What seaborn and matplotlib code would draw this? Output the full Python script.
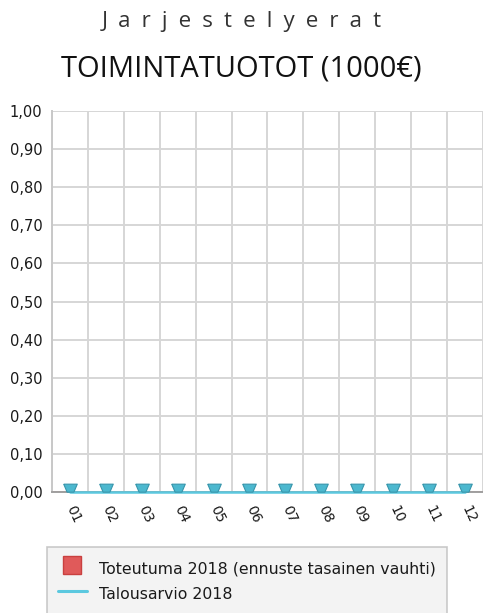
import numpy as np
import pandas as pd
import matplotlib
matplotlib.use("Agg")
import matplotlib.pyplot as plt
import seaborn as sns
from matplotlib.lines import Line2D
from matplotlib.ticker import FuncFormatter

# Data
months = ["01", "02", "03", "04", "05", "06", "07", "08", "09", "10", "11", "12"]
toteutuma = [0, 0, 0, 0, 0, 0, 0, 0, 0, 0, 0, 0]
talousarvio = [0, 0, 0, 0, 0, 0, 0, 0, 0, 0, 0, 0]
y_ticks = [0.0, 0.1, 0.2, 0.3, 0.4, 0.5, 0.6, 0.7, 0.8, 0.9, 1.0]

df = pd.DataFrame({"kk": months, "toteutuma": toteutuma, "talousarvio": talousarvio})

sns.set_style("white")
plt.rcParams["font.family"] = ["DejaVu Sans"]

fig = plt.figure(figsize=(4.83, 6.13), dpi=100)
ax = fig.add_axes([0.1077, 0.1974, 0.892, 0.6215])

# clipped triangle look (marker sits on top of the zero line)
trap = [(-1, 1.23), (1, 1.23), (0.5, 0.05), (-0.5, 0.05), (-1, 1.23)]

# Bars (actuals) and line (budget)
sns.barplot(data=df, x="kk", y="toteutuma", color="#e05a5a", edgecolor="#c9403f",
            linewidth=1.2, width=1.0, ax=ax, zorder=2)
ax.plot(range(len(months)), df["talousarvio"], color="#5bc8df", linewidth=1.8,
        marker=trap, markersize=12, markerfacecolor="#4cb8cf",
        markeredgecolor="#3795ab", markeredgewidth=0.8, zorder=4, clip_on=False)

ax.set_xlim(-0.5, len(months) - 0.5)
ax.set_ylim(0, 1)

# Grid
ax.set_yticks(y_ticks)
ax.yaxis.set_major_formatter(FuncFormatter(lambda v, p: f"{v:.2f}".replace(".", ",")))
ax.set_xticks(np.arange(-0.5, len(months), 1.0))
ax.set_xticks(np.arange(len(months)), minor=True)
ax.set_xticklabels([])
ax.set_xticklabels(months, minor=True, rotation=-65, ha="left", va="center",
                   rotation_mode="anchor")
ax.grid(True, which="major", color="#d6d6d6", linewidth=1.4, zorder=0)
ax.set_axisbelow(True)

ax.tick_params(axis="x", which="major", length=7, width=2.2, color="#8a8a8a", direction="out")
ax.tick_params(axis="x", which="minor", length=0, pad=10, labelsize=10, labelcolor="#1a1a1a")
ax.tick_params(axis="y", length=0, pad=7, labelsize=10.5, labelcolor="#1a1a1a")

for side in ["top", "right"]:
    ax.spines[side].set_visible(False)
ax.spines["left"].set_color("#c8c8c8")
ax.spines["left"].set_linewidth(1.4)
ax.spines["bottom"].set_color("#a0a0a0")
ax.spines["bottom"].set_linewidth(1.4)

ax.set_xlabel("")
ax.set_ylabel("")

# Title
fig.text(0.5, 0.965, "\u2002".join("Jarjestelyerat"), ha="center", va="center",
         fontsize=16, color="#333333", family=["Open Sans", "DejaVu Sans"])
fig.text(0.5, 0.887, "TOIMINTATUOTOT (1000€)", ha="center", va="center",
         fontsize=21, color="#111111", family=["Open Sans", "DejaVu Sans"])

# Legend
handles = [
    Line2D([0], [0], linestyle="none", marker="s", markersize=13,
           markerfacecolor="#e05a5a", markeredgecolor="#c9403f",
           label="Toteutuma 2018 (ennuste tasainen vauhti)"),
    Line2D([0], [0], color="#5bc8df", linewidth=2.2, label="Talousarvio 2018"),
]
leg = fig.legend(handles=handles, loc="upper left", bbox_to_anchor=(0.097, 0.108),
                 fontsize=11.3, frameon=True, fancybox=False, handlelength=1.85,
                 handleheight=1.6, borderpad=0.7, labelspacing=0.35,
                 handletextpad=0.8, borderaxespad=0)
leg.get_frame().set_facecolor("#f0f0f0")
leg.get_frame().set_edgecolor("#bdbdbd")
leg.get_frame().set_linewidth(1.2)
for t in leg.get_texts():
    t.set_color("#1a1a1a")

fig.savefig("out.png", dpi=100)
